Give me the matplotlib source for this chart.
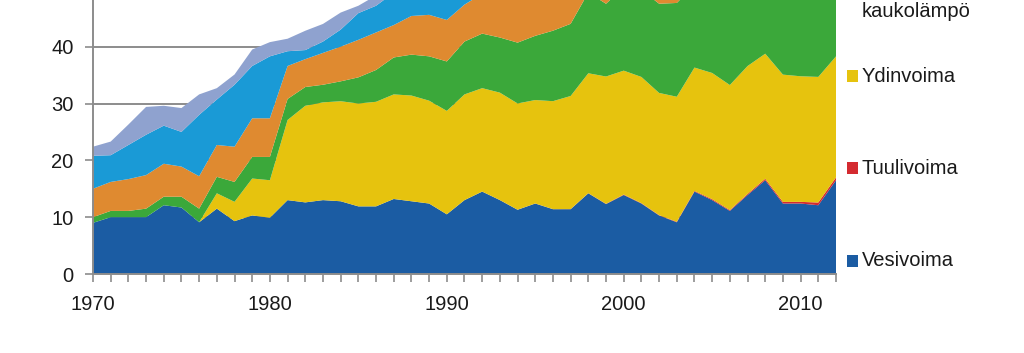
import numpy as np
import matplotlib
matplotlib.use("Agg")
import matplotlib.pyplot as plt
from matplotlib.patches import Rectangle

plt.rcParams['font.family'] = ['Liberation Sans', 'DejaVu Sans']

# Sähkön tuotanto energialähteittäin, TWh (luettu kuvasta)
years = list(range(1970, 2013))

vesivoima = [9.0, 10.0, 10.0, 10.0, 12.1, 11.7, 9.1, 11.5, 9.3, 10.3,
             9.9, 13.0, 12.6, 13.0, 12.8, 11.9, 11.9, 13.2, 12.8, 12.4,
             10.5, 13.0, 14.5, 13.0, 11.3, 12.4, 11.4, 11.4, 14.2, 12.3,
             13.9, 12.4, 10.3, 9.1, 14.5, 13.0, 11.1, 13.9, 16.5, 12.4,
             12.4, 12.1, 16.5]
tuulivoima = [0.0] * 22 + [0.0, 0.01, 0.01, 0.01, 0.01, 0.02, 0.02, 0.05,
                           0.08, 0.07, 0.06, 0.09, 0.12, 0.17, 0.15, 0.19, 0.26, 0.28,
                           0.29, 0.48, 0.49]
ydinvoima = [0, 0, 0, 0, 0, 0, 0, 2.7, 3.4, 6.5,
             6.6, 14.1, 17.0, 17.2, 17.6, 18.1, 18.4, 18.4, 18.6, 18.1,
             18.2, 18.6, 18.2, 18.9, 18.7, 18.2, 19.0, 19.9, 21.1, 22.4,
             21.8, 22.2, 21.5, 22.0, 21.7, 22.2, 22.0, 22.5, 22.0, 22.4,
             22.1, 22.1, 21.3]
kaukolampo = [1.0, 1.1, 1.1, 1.5, 1.5, 1.9, 2.4, 2.9, 3.5, 3.8,
              4.1, 3.7, 3.3, 3.1, 3.5, 4.6, 5.6, 6.5, 7.2, 7.8,
              8.7, 9.3, 9.6, 9.7, 10.7, 11.3, 12.4, 12.7, 14.2, 12.8,
              14.7, 15.3, 15.7, 16.5, 14.5, 14.5, 16.0, 14.5, 14.0, 14.5,
              16.5, 15.0, 14.0]
teollisuus = [5.0, 5.1, 5.6, 5.9, 5.8, 5.3, 5.7, 5.6, 6.2, 6.8,
              6.8, 5.8, 4.9, 5.6, 6.1, 6.6, 6.6, 5.7, 6.8, 7.3,
              7.3, 6.5, 7.0, 8.0, 9.0, 8.5, 8.5, 8.5, 7.5, 8.0,
              7.5, 7.5, 8.0, 8.5, 8.5, 7.0, 8.5, 8.0, 7.5, 6.5,
              7.0, 6.5, 6.5]
lauhdevoima = [5.8, 4.7, 6.0, 7.1, 6.7, 6.1, 10.8, 8.0, 10.9, 9.2,
               10.9, 2.6, 1.6, 2.0, 3.0, 4.7, 4.7, 5.7, 5.0, 4.5,
               5.0, 3.0, 3.5, 4.0, 8.0, 6.0, 10.0, 8.0, 5.0, 5.0,
               4.0, 6.0, 7.0, 12.0, 9.0, 3.5, 10.0, 8.0, 5.0, 5.5,
               9.0, 5.0, 3.0]
nettotuonti = [1.6, 2.4, 3.6, 4.9, 3.5, 4.2, 3.6, 2.0, 1.8, 2.9,
               2.5, 2.2, 3.4, 3.1, 3.0, 1.3, 1.8, 3.0, 4.0, 5.5,
               10.7, 7.0, 7.5, 7.5, 4.5, 8.0, 4.0, 7.5, 8.5, 11.0,
               11.9, 11.0, 11.0, 5.0, 5.0, 16.9, 11.4, 12.6, 12.8, 12.1,
               10.5, 13.9, 17.4]

colors = ['#1b5ca3', '#d42a30', '#e6c30e', '#3ba83a', '#df8a30', '#1a9ad6', '#8fa2cf']

fig = plt.figure(figsize=(10.24, 3.53), dpi=100)
# the original chart is cropped at the top, so the axes run past the figure edge
ax = fig.add_axes([93 / 1024, 79 / 353, 743 / 1024, 341 / 353])

ax.stackplot(years, vesivoima, tuulivoima, ydinvoima, kaukolampo,
             teollisuus, lauhdevoima, nettotuonti, colors=colors,
             linewidth=0, zorder=2)

ax.set_xlim(1970, 2012)
ax.set_ylim(0, 60)
ax.set_yticks(range(0, 41, 10))
ax.set_xticks(range(1970, 2011, 10))
ax.set_xticks(years, minor=True)
ax.grid(axis='y', color='#8c8c8c', linewidth=1.4, zorder=0)
ax.set_axisbelow(True)

for s in ['top', 'right']:
    ax.spines[s].set_visible(False)
for s in ['left', 'bottom']:
    ax.spines[s].set_color('#8c8c8c')
    ax.spines[s].set_linewidth(1.4)
    ax.spines[s].set_zorder(3)

ax.tick_params(axis='both', which='both', color='#8c8c8c', width=1.2,
               length=6, labelsize=14.5, labelcolor='#1a1a1a')
ax.tick_params(axis='x', which='major', pad=9)
ax.tick_params(axis='y', pad=8)

# legend, drawn by hand to keep the wide spacing of the original
legend_items = [('Vesivoima', colors[0], 261),
                ('Tuulivoima', colors[1], 168),
                ('Ydinvoima', colors[2], 76)]
for label, c, py in legend_items:
    fig.patches.append(Rectangle((847 / 1024, 1 - (py + 6) / 353), 11 / 1024, 12 / 353,
                                 transform=fig.transFigure, facecolor=c,
                                 edgecolor='none'))
    fig.text(862 / 1024, 1 - py / 353, label, fontsize=14.5, color='#1a1a1a',
             va='center', ha='left')
fig.text(862 / 1024, 1 - 17 / 353, 'kaukolämpö', fontsize=14.5, color='#1a1a1a',
         va='baseline', ha='left')

fig.savefig('out.png', dpi=100)
